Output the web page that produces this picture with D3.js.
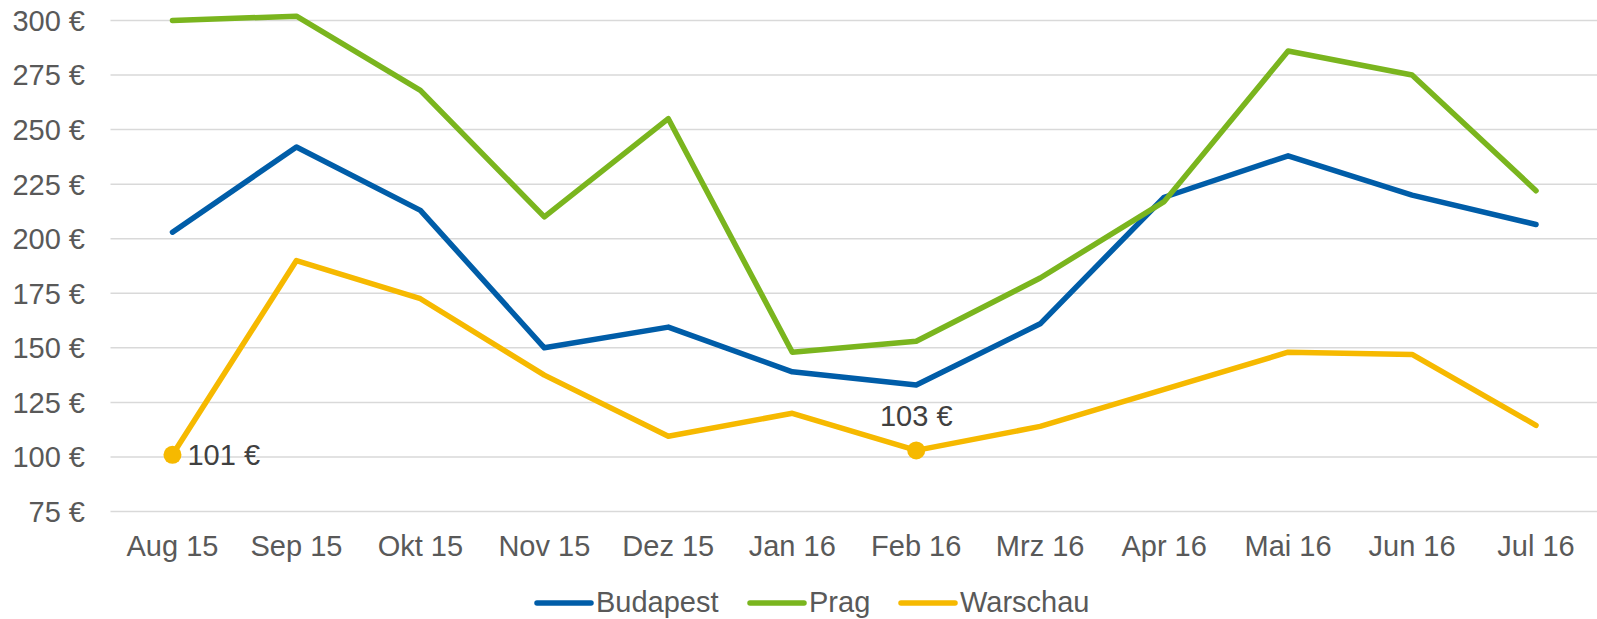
<!DOCTYPE html>
<html>
<head>
<meta charset="utf-8">
<script src="https://cdn.jsdelivr.net/npm/d3@7"></script>
<style>
  html, body { margin: 0; padding: 0; background: #fff; }
  svg { display: block; }
  text { font-family: "Liberation Sans", Arial, sans-serif; }
</style>
</head>
<body>
<svg id="chart" width="1597" height="619"></svg>
<script>
// months shown on the x axis
var months = ['Aug 15', 'Sep 15', 'Okt 15', 'Nov 15', 'Dez 15', 'Jan 16',
  'Feb 16', 'Mrz 16', 'Apr 16', 'Mai 16', 'Jun 16', 'Jul 16'];
var budapest = [203, 242, 213, 150, 159.5, 139, 133, 161, 219, 238, 220, 206.5];
var prag = [300, 302, 268, 210, 255, 148, 153, 182, 217, 286, 275, 222];
var warschau = [101, 190, 172.5, 137.5, 109.5, 120, 103, 114, 131, 148, 147, 114.5];
var yTicks = [75, 100, 125, 150, 175, 200, 225, 250, 275, 300];
// labelled minima (index into warschau)
var labelled = [0, 6];

var series = [
  { name: 'Budapest', values: budapest, color: '#005DA8' },
  { name: 'Prag', values: prag, color: '#7AB51E' },
  { name: 'Warschau', values: warschau, color: '#F6B900' }
];

var svg = d3.select('#chart');
var mLeft = 110.5, mRight = 1598, mTop = 20.5, mBottom = 511.5;

var x = d3.scaleBand().domain(months).range([mLeft, mRight]).padding(0);
var y = d3.scaleLinear().domain([75, 300]).range([mBottom, mTop]);
var cx = function (d) { return x(d) + x.bandwidth() / 2; };

// gridlines
svg.append('g')
  .selectAll('line')
  .data(yTicks)
  .enter().append('line')
  .attr('x1', mLeft).attr('x2', 1597)
  .attr('y1', function (d) { return y(d); })
  .attr('y2', function (d) { return y(d); })
  .attr('stroke', '#d9d9d9')
  .attr('stroke-width', 1.5);

// y axis labels
svg.append('g')
  .selectAll('text')
  .data(yTicks)
  .enter().append('text')
  .attr('x', 85)
  .attr('y', function (d) { return y(d); })
  .attr('dy', '0.36em')
  .attr('text-anchor', 'end')
  .attr('font-size', 29)
  .attr('fill', '#595959')
  .text(function (d) { return d + ' €'; });

// x axis labels
svg.append('g')
  .selectAll('text')
  .data(months)
  .enter().append('text')
  .attr('x', cx)
  .attr('y', 556)
  .attr('text-anchor', 'middle')
  .attr('font-size', 29)
  .attr('fill', '#595959')
  .text(function (d) { return d; });

var line = d3.line()
  .x(function (d, i) { return cx(months[i]); })
  .y(function (d) { return y(d); });

svg.append('g')
  .selectAll('path')
  .data(series)
  .enter().append('path')
  .attr('d', function (s) { return line(s.values); })
  .attr('fill', 'none')
  .attr('stroke', function (s) { return s.color; })
  .attr('stroke-width', 5.5)
  .attr('stroke-linejoin', 'round')
  .attr('stroke-linecap', 'round');

// markers + labels on warschau minima
var marks = svg.append('g');
marks.selectAll('circle')
  .data(labelled)
  .enter().append('circle')
  .attr('cx', function (i) { return cx(months[i]); })
  .attr('cy', function (i) { return y(warschau[i]); })
  .attr('r', 9)
  .attr('fill', '#F6B900');
marks.selectAll('text')
  .data(labelled)
  .enter().append('text')
  .attr('x', function (i) { return i === 0 ? cx(months[i]) + 15 : cx(months[i]); })
  .attr('y', function (i) { return i === 0 ? y(warschau[i]) + 10 : y(warschau[i]) - 24; })
  .attr('text-anchor', function (i) { return i === 0 ? 'start' : 'middle'; })
  .attr('font-size', 29)
  .attr('fill', '#404040')
  .text(function (i) { return warschau[i] + ' €'; });

// legend
var legendX = [537, 750, 901];
var lg = svg.append('g')
  .selectAll('g')
  .data(series)
  .enter().append('g')
  .attr('transform', function (s, i) { return 'translate(' + legendX[i] + ',603)'; });
lg.append('line')
  .attr('x1', 0).attr('x2', 54)
  .attr('stroke', function (s) { return s.color; })
  .attr('stroke-width', 5.5)
  .attr('stroke-linecap', 'round');
lg.append('text')
  .attr('x', 59)
  .attr('y', 0)
  .attr('dy', '0.3em')
  .attr('font-size', 29)
  .attr('fill', '#595959')
  .text(function (s) { return s.name; });
</script>
</body>
</html>
